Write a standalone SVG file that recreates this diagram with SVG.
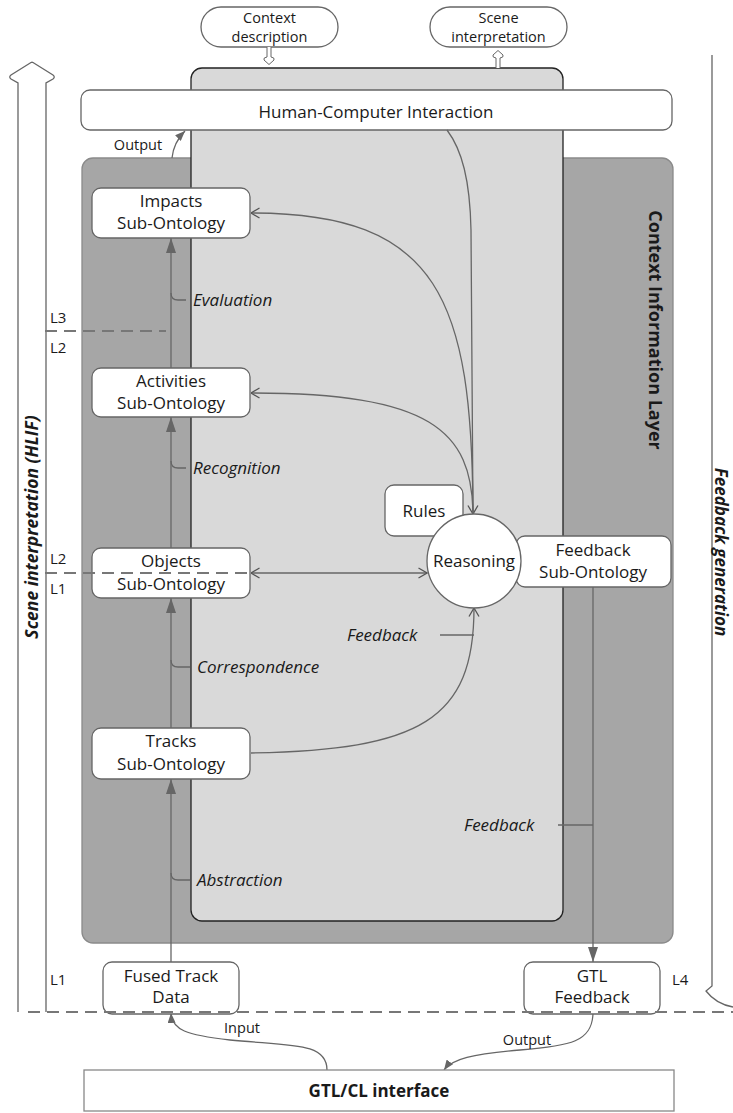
<svg xmlns="http://www.w3.org/2000/svg" width="733" height="1113" viewBox="0 0 733 1113">
<style>
  text { font-family: "Open Sans", "Noto Sans", "DejaVu Sans", sans-serif; fill: #1a1a1a; }
  .node { fill: #ffffff; stroke: #666666; stroke-width: 1.3; }
  .lbl { font-size: 17px; text-anchor: middle; }
  .sm { font-size: 14.5px; text-anchor: middle; }
  .it { font-size: 17px; font-style: italic; }
  .lv { font-size: 15px; }
  .conn { fill: none; stroke: #666666; stroke-width: 1.3; }
  .dash { fill: none; stroke: #777777; stroke-width: 2; stroke-dasharray: 12 7; }
  .bold { font-weight: bold; }
</style>
<defs>
  <marker id="tri" viewBox="0 0 15 10" refX="15" refY="5" markerWidth="15" markerHeight="10" markerUnits="userSpaceOnUse" orient="auto">
    <path d="M0,0 L15,5 L0,10 z" fill="#666666"/>
  </marker>
  <marker id="tri-s" viewBox="0 0 10 8" refX="10" refY="4" markerWidth="10" markerHeight="8" markerUnits="userSpaceOnUse" orient="auto">
    <path d="M0,0 L10,4 L0,8 z" fill="#666666"/>
  </marker>
  <marker id="vee" viewBox="0 0 10 12" refX="9.5" refY="6" markerWidth="10" markerHeight="12" markerUnits="userSpaceOnUse" orient="auto-start-reverse">
    <path d="M1,1 L9.5,6 L1,11" fill="none" stroke="#555555" stroke-width="1.3"/>
  </marker>
</defs>

<!-- background frame elements -->
<g id="layers">
  <!-- scene interpretation block arrow -->
  <path d="M18,1012 V83 L11,79 Q8.5,77 11,75 L31,62.5 Q32,62 33,62.5 L53,75 Q55.5,77 53,79 L46,83 V1012" fill="#ffffff" stroke="#666666" stroke-width="1.3"/>
  <text class="bold" font-style="italic" font-size="17.5" text-anchor="middle" transform="translate(38,527) rotate(-90)">Scene interpretation (HLIF)</text>
  <!-- feedback generation brace -->
  <path d="M712,55 V986 L706,991 Q716,1004 733,1007" fill="none" stroke="#666666" stroke-width="1.3"/>
  <text class="bold" font-style="italic" font-size="17" text-anchor="middle" transform="translate(715,552) rotate(90)">Feedback generation</text>
</g>

<g id="context-layer">
  <rect x="82" y="158" width="591" height="785" rx="11" fill="#a6a6a6" stroke="#8a8a8a" stroke-width="1.3"/>
  <text class="bold" font-size="18" text-anchor="middle" transform="translate(649,330) rotate(90)">Context Information Layer</text>
</g>

<g id="reasoning-panel">
  <rect x="191" y="68" width="372" height="853" rx="11" fill="#d9d9d9" stroke="#222222" stroke-width="1.3"/>
</g>

<g id="hci">
  <rect x="81" y="90" width="591" height="40" rx="9" class="node"/>
  <text class="lbl" x="376" y="118" font-size="17.5">Human-Computer Interaction</text>
</g>

<g id="context-description">
  <rect x="201" y="7" width="137" height="40" rx="20" class="node"/>
  <text class="sm" x="269.5" y="23">Context</text>
  <text class="sm" x="269.5" y="42">description</text>
  <path d="M267,47 V57 Q263,57.5 264,60 L269,64.5 L274,60 Q275,57.5 271,57 V47" fill="#ffffff" stroke="#666666" stroke-width="1"/>
</g>

<g id="scene-interpretation">
  <rect x="430" y="7" width="137" height="40" rx="20" class="node"/>
  <text class="sm" x="498.5" y="23">Scene</text>
  <text class="sm" x="498.5" y="42">interpretation</text>
  <path d="M496,68 V58 Q492,57.5 493,55 L498,50.5 L503,55 Q504,57.5 500,58 V68" fill="#ffffff" stroke="#666666" stroke-width="1"/>
</g>

<!-- connectors -->
<g id="connectors">
  <!-- ontology stack -->
  <path class="conn" d="M171,962 V779" marker-end="url(#tri)"/>
  <path class="conn" d="M171,728 V598" marker-end="url(#tri)"/>
  <path class="conn" d="M171,548 V417" marker-end="url(#tri)"/>
  <path class="conn" d="M171,368 V238" marker-end="url(#tri)"/>
  <!-- stage label ticks -->
  <path class="conn" d="M171,293 Q171,300 178,300 H186"/>
  <path class="conn" d="M171,461 Q171,468 178,468 H186"/>
  <path class="conn" d="M171,660 Q171,667 178,667 H190"/>
  <path class="conn" d="M171,873 Q171,880 178,880 H190"/>
  <!-- HCI to reasoning -->
  <path class="conn" d="M447,130 C462,150 470,180 471,230 L473,514" marker-end="url(#vee)"/>
  <!-- reasoning to ontologies -->
  <path class="conn" d="M473,514 C472,300 440,213 251,213" marker-end="url(#vee)"/>
  <path class="conn" d="M473,514 C472,430 430,393 251,393" marker-end="url(#vee)"/>
  <path class="conn" d="M251,573 H427" marker-start="url(#vee)" marker-end="url(#vee)"/>
  <path class="conn" d="M251,753 C420,750 474,720 474,608" marker-end="url(#vee)"/>
  <!-- feedback tick -->
  <path class="conn" d="M440,635 H474"/>
  <!-- feedback down to GTL -->
  <path class="conn" d="M593,587 V962" marker-end="url(#tri)"/>
  <path class="conn" d="M558,825 H593"/>
  <!-- output to HCI -->
  <path class="conn" d="M172,158 C173,148 177,139 185,131" marker-end="url(#tri-s)"/>
  <!-- interface arrows -->
  <path class="conn" d="M327,1070 C327,1042 290,1046 230,1040 C186,1035 172,1030 171,1013" marker-end="url(#tri-s)"/>
  <path class="conn" d="M593,1012 C593,1042 570,1046 520,1050 C472,1054 452,1059 444,1070" marker-end="url(#tri-s)"/>
</g>

<g id="connector-labels">
  <text class="it" x="193" y="306">Evaluation</text>
  <text class="it" x="193" y="474">Recognition</text>
  <text class="it" x="197" y="673">Correspondence</text>
  <text class="it" x="197" y="886">Abstraction</text>
  <text class="it" x="347" y="641">Feedback</text>
  <text class="it" x="464" y="831">Feedback</text>
  <text class="sm" x="138" y="150">Output</text>
  <text class="sm" x="242" y="1033" font-size="15">Input</text>
  <text class="sm" x="527" y="1045" font-size="15">Output</text>
</g>

<g id="impacts">
  <rect x="92" y="188" width="158" height="50" rx="9" class="node"/>
  <text class="lbl" x="171" y="207">Impacts</text>
  <text class="lbl" x="171" y="229">Sub-Ontology</text>
</g>
<g id="activities">
  <rect x="92" y="368" width="158" height="49" rx="9" class="node"/>
  <text class="lbl" x="171" y="387">Activities</text>
  <text class="lbl" x="171" y="409">Sub-Ontology</text>
</g>
<g id="objects">
  <rect x="92" y="548" width="158" height="50" rx="9" class="node"/>
  <text class="lbl" x="171" y="567">Objects</text>
  <text class="lbl" x="171" y="590">Sub-Ontology</text>
</g>
<g id="tracks">
  <rect x="92" y="728" width="158" height="51" rx="9" class="node"/>
  <text class="lbl" x="171" y="747">Tracks</text>
  <text class="lbl" x="171" y="770">Sub-Ontology</text>
</g>
<g id="rules">
  <rect x="385" y="485" width="78" height="51" rx="9" class="node"/>
  <text class="lbl" x="424" y="517">Rules</text>
</g>
<g id="feedback-ontology">
  <rect x="516" y="536" width="155" height="51" rx="9" class="node"/>
  <text class="lbl" x="593" y="556">Feedback</text>
  <text class="lbl" x="593" y="578">Sub-Ontology</text>
</g>
<g id="reasoning">
  <circle cx="474" cy="561" r="47" class="node"/>
  <text class="lbl" x="474" y="567">Reasoning</text>
</g>
<g id="fused-track-data">
  <rect x="103" y="962" width="136" height="52" rx="9" class="node"/>
  <text class="lbl" x="171" y="982">Fused Track</text>
  <text class="lbl" x="171" y="1003">Data</text>
</g>
<g id="gtl-feedback">
  <rect x="524" y="962" width="136" height="52" rx="9" class="node"/>
  <text class="lbl" x="592" y="982">GTL</text>
  <text class="lbl" x="592" y="1003">Feedback</text>
</g>
<g id="gtl-cl-interface">
  <rect x="84" y="1070" width="590" height="41" fill="#ffffff" stroke="#888888" stroke-width="1.3"/>
  <text class="lbl bold" x="379" y="1097">GTL/CL interface</text>
</g>

<!-- level boundaries -->
<g id="levels">
  <path class="dash" d="M45,331 H166"/>
  <path class="dash" d="M45,573 H250"/>
  <path class="dash" d="M28,1012 H733"/>
  <text class="lv" x="50" y="323">L3</text>
  <text class="lv" x="50" y="353">L2</text>
  <text class="lv" x="50" y="564">L2</text>
  <text class="lv" x="50" y="594">L1</text>
  <text class="lv" x="50" y="985">L1</text>
  <text class="lv" x="672" y="985">L4</text>
</g>
</svg>
